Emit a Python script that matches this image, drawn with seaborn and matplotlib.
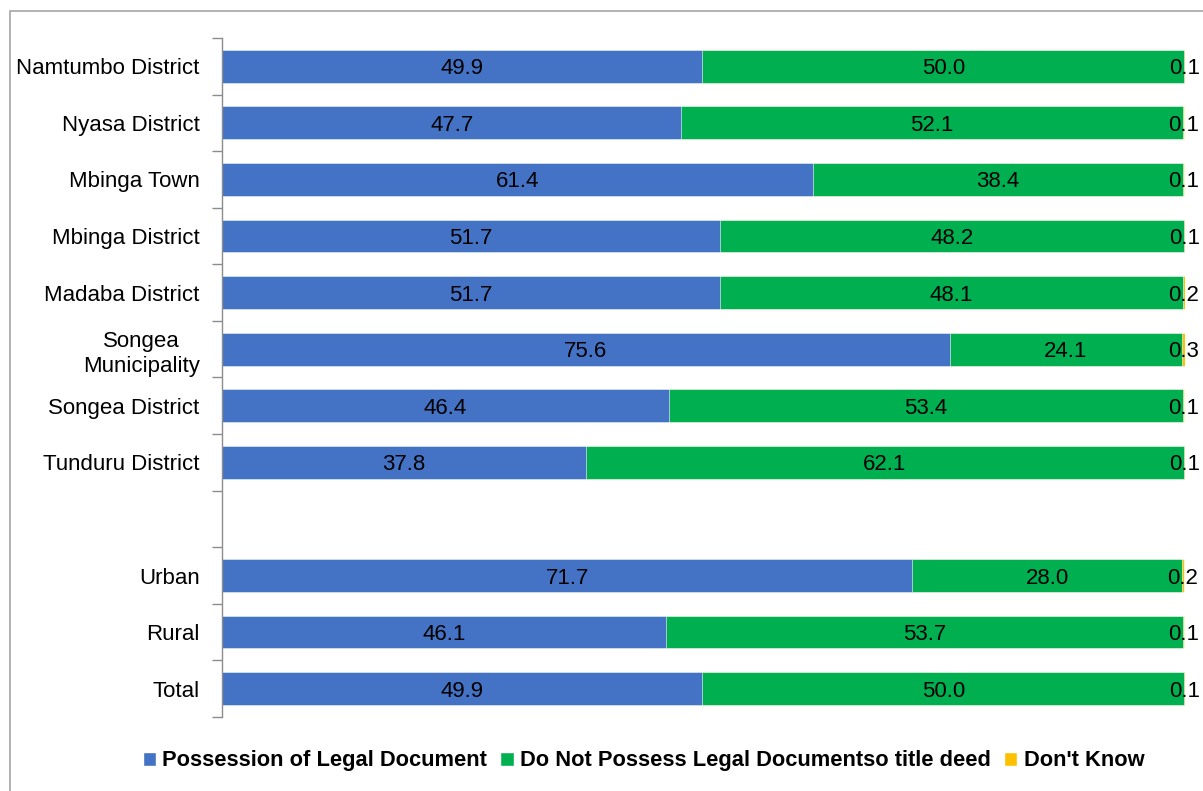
import pandas as pd
import numpy as np
import matplotlib.pyplot as plt
import seaborn as sns
from matplotlib.patches import Rectangle, Patch

# Data
categories = ['Namtumbo District', 'Nyasa District', 'Mbinga Town', 'Mbinga District',
              'Madaba District', 'Songea\nMunicipality', 'Songea District', 'Tunduru District',
              '', 'Urban', 'Rural', 'Total']
possess = [49.9, 47.7, 61.4, 51.7, 51.7, 75.6, 46.4, 37.8, np.nan, 71.7, 46.1, 49.9]
not_possess = [50.0, 52.1, 38.4, 48.2, 48.1, 24.1, 53.4, 62.1, np.nan, 28.0, 53.7, 50.0]
dont_know = [0.1, 0.1, 0.1, 0.1, 0.2, 0.3, 0.1, 0.1, np.nan, 0.2, 0.1, 0.1]
series_names = ['Possession of Legal Document',
                'Do Not Possess Legal Documentso title deed',
                "Don't Know"]
colors = ['#4472C4', '#00B050', '#FFC000']

df = pd.DataFrame({'Category': categories, 'Possess': possess,
                   'NotPossess': not_possess, 'DontKnow': dont_know})
df['c1'] = df['Possess']
df['c2'] = df['Possess'] + df['NotPossess']
df['c3'] = df['c2'] + df['DontKnow']

sns.set_style('white')
plt.rcParams['font.family'] = ['Liberation Sans', 'DejaVu Sans']

fig = plt.figure(figsize=(12.03, 7.91), dpi=100)
ax = fig.add_axes([0.1845, 0.0936, 0.8005, 0.8584])

# stacked bars drawn back to front from cumulative sums
for col, color in zip(['c3', 'c2', 'c1'], colors[::-1]):
    sns.barplot(data=df, x=col, y='Category', order=categories, orient='h',
                color=color, saturation=1, width=0.58, ax=ax,
                edgecolor='white', linewidth=0.4, errorbar=None)

ax.set_xlim(0, 100)
ax.set_ylim(len(categories) - 0.5, -0.5)
ax.set_xlabel('')
ax.set_ylabel('')
ax.set_xticks([])

# value labels
for i in range(len(categories)):
    if np.isnan(possess[i]):
        continue
    starts = [0, possess[i], possess[i] + not_possess[i]]
    vals = [possess[i], not_possess[i], dont_know[i]]
    for s, v in zip(starts, vals):
        ax.text(s + v / 2, i, f'{v:.1f}', ha='center', va='center_baseline',
                fontsize=16, color='black')

# category axis like Excel: ticks at boundaries
ax.set_yticks(np.arange(len(categories)))
ax.set_yticklabels(categories, fontsize=16, linespacing=1.25, color='black',
                   multialignment='center')
ax.set_yticks(np.arange(len(categories) + 1) - 0.5, minor=True)
ax.tick_params(axis='y', which='major', length=0, pad=16)
ax.tick_params(axis='y', which='minor', length=7, width=1, color='#8c8c8c', left=True)
for side in ['top', 'right', 'bottom']:
    ax.spines[side].set_visible(False)
ax.spines['left'].set_color('#8c8c8c')
ax.spines['left'].set_linewidth(1)

# legend
handles = [Patch(facecolor=c, label=n) for c, n in zip(colors, series_names)]
fig.legend(handles=handles, loc='center', bbox_to_anchor=(0.535, 0.038), ncol=3,
           frameon=False, prop={'weight': 'bold', 'size': 15.75}, labelcolor='black',
           handlelength=0.6, handleheight=0.6, handletextpad=0.3, columnspacing=0.6)

# chart frame
fig.patches.append(Rectangle((10 / 1203, -0.1), 1.2, 1 - 11 / 791 + 0.1,
                             transform=fig.transFigure, fill=False,
                             edgecolor='#a6a6a6', linewidth=1.2))

fig.savefig('out.png', dpi=100)
